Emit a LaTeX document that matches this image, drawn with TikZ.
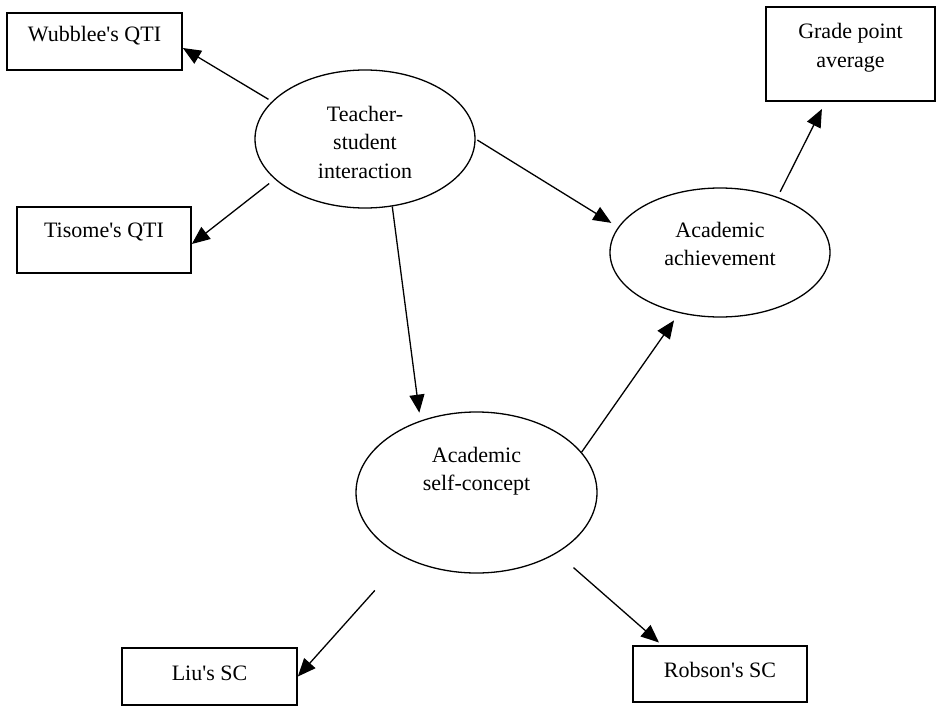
\documentclass[tikz,border=0pt]{standalone}
\usepackage{fontspec}
\setmainfont{Liberation Serif}
\usetikzlibrary{arrows.meta,shapes.geometric}
\begin{document}
\begin{tikzpicture}[x=1pt,y=-1pt,
  box/.style={draw, line width=1.7pt, rectangle, inner sep=0pt},
  oval/.style={draw, line width=1.3pt, ellipse, inner sep=0pt},
  lbl/.style={font=\fontsize{22}{28.5}\selectfont, align=center, inner sep=0pt},
  link/.style={line width=1.3pt, -{Triangle[length=18pt,width=15pt]}}]

\useasboundingbox (0,0) rectangle (936,706);

% boxes
\node[box, minimum width=175pt, minimum height=57pt,
  label={[lbl, yshift=6pt]center:Wubblee\textquotesingle s QTI}] (W) at (94.5,41.5) {};
\node[box, minimum width=174pt, minimum height=66pt,
  label={[lbl, yshift=8pt]center:Tisome\textquotesingle s QTI}] (Ti) at (104,240) {};
\node[box, minimum width=169pt, minimum height=94pt,
  label={[lbl, yshift=6.5pt]center:{Grade point\\average}}] (G) at (850.5,54) {};
\node[box, minimum width=175pt, minimum height=57pt,
  label={[lbl, yshift=3.5pt]center:Liu\textquotesingle s SC}] (L) at (209.5,676.5) {};
\node[box, minimum width=174pt, minimum height=56pt,
  label={[lbl, yshift=4pt]center:Robson\textquotesingle s SC}] (R) at (720,674) {};

% ellipses
\node[oval, minimum width=220pt, minimum height=138pt,
  label={[lbl, yshift=-3pt]center:{Teacher-\\student\\interaction}}] (T) at (365,139) {};
\node[oval, minimum width=220pt, minimum height=129pt,
  label={[lbl, yshift=8.5pt]center:{Academic\\achievement}}] (A) at (720,252.5) {};
\node[oval, minimum width=241pt, minimum height=161pt,
  label={[lbl, yshift=21.5pt]center:{Academic\\self-concept}}] (S) at (476.5,492.5) {};

% connectors
\draw[link, shorten <=4pt] (T.158) -- ([yshift=-6.5pt]W.east);
\draw[link, shorten <=7pt] (T.204) -- ([yshift=-4pt]Ti.east);
\draw[link, shorten <=2pt, shorten >=8pt] (T.east) -- (A.166);
\draw[link, shorten >=8pt] (T.-68.3) -- (S.128.7);
\draw[link, shorten >=9pt] (S.21) -- (A.236.5);
\draw[link, shorten <=5.7pt, shorten >=8pt] (A.44.8) -- ([xshift=-25pt]G.south);
\draw[link, shorten <=44pt] (S.222.4) -- (L.east);
\draw[link, shorten <=22pt, shorten >=4pt] (S.-37.7) -- ([xshift=-58pt]R.north);
\end{tikzpicture}
\end{document}
